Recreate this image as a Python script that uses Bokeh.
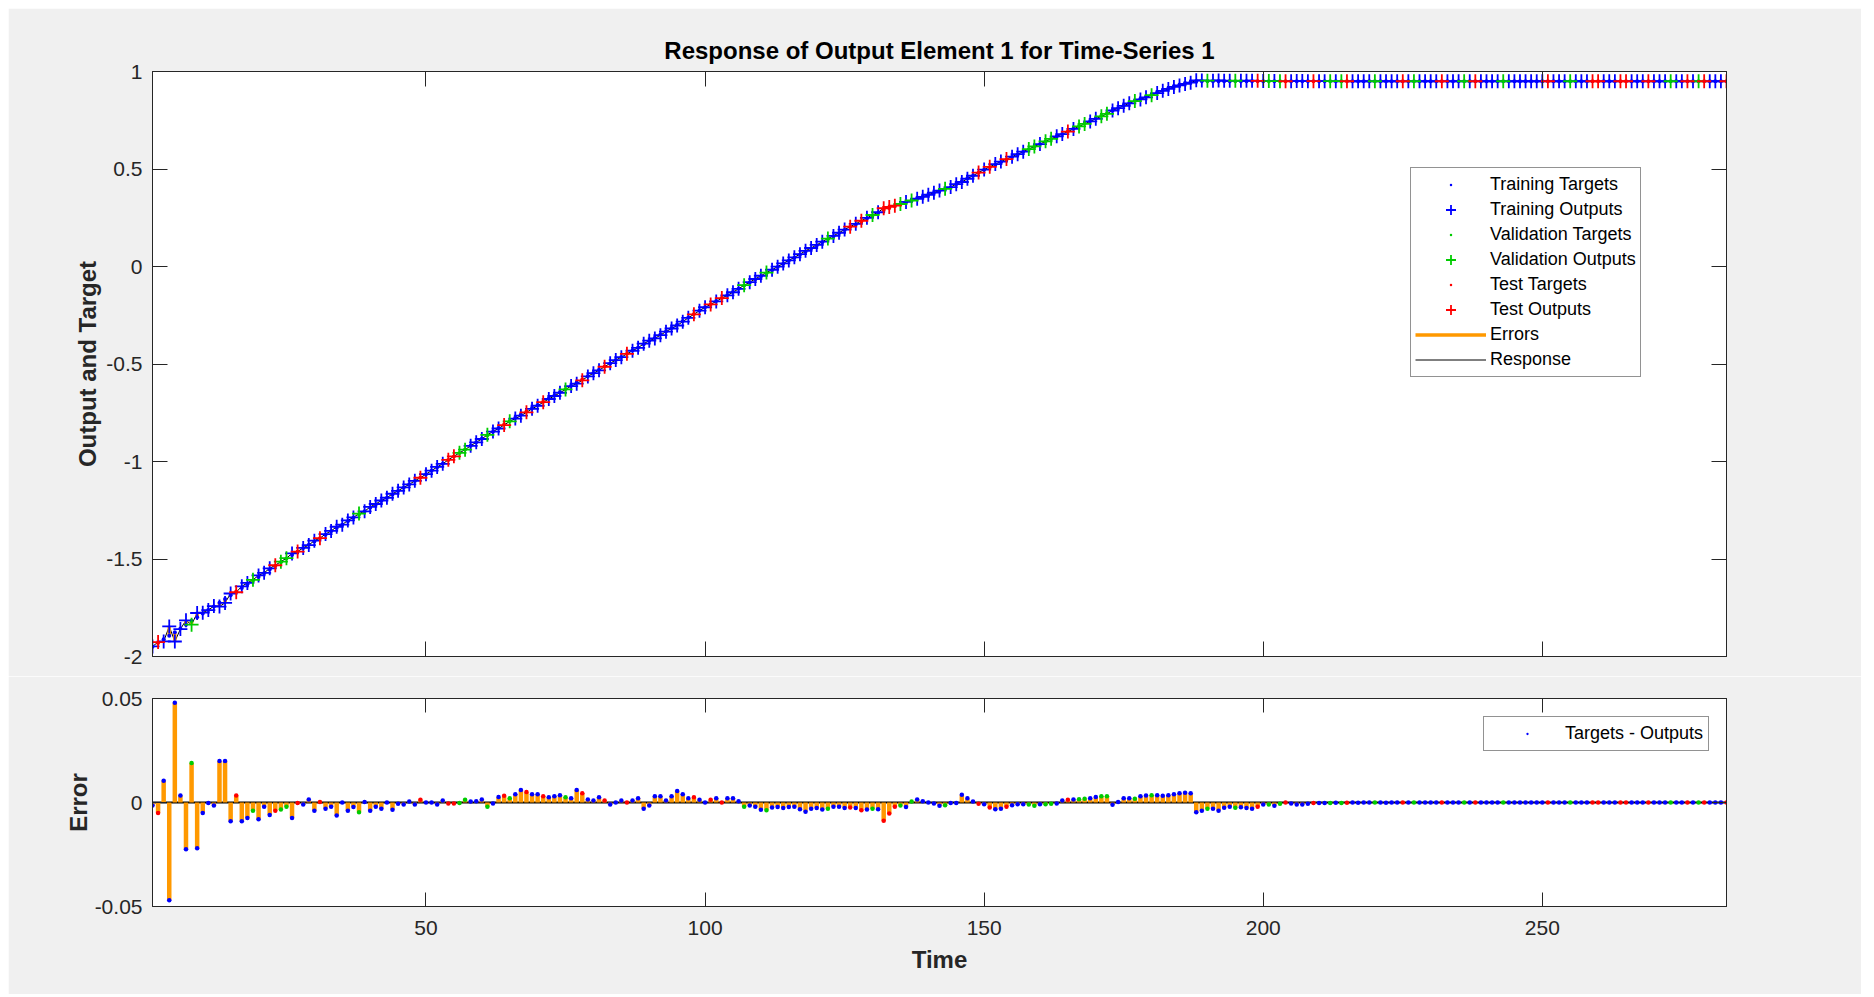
from bokeh.plotting import figure
from bokeh.models import (Range1d, FixedTicker, LinearAxis, Legend, LegendItem,
                          CustomJSTickFormatter, ColumnDataSource, Title, Span,
                          CustomLabelingPolicy)
from bokeh.layouts import column
from bokeh.embed import file_html
from bokeh.resources import INLINE

# ---------------- data ----------------
time = list(range(1, 284))

targets = [
    -1.950, -1.931, -1.912, -1.893, -1.875, -1.856, -1.837, -1.818, -1.799, -1.780,
    -1.762, -1.743, -1.724, -1.705, -1.686, -1.667, -1.649, -1.630, -1.611, -1.592,
    -1.573, -1.554, -1.536, -1.517, -1.498, -1.479, -1.462, -1.444, -1.427, -1.410,
    -1.393, -1.375, -1.358, -1.341, -1.324, -1.306, -1.289, -1.272, -1.255, -1.237,
    -1.220, -1.203, -1.186, -1.169, -1.151, -1.134, -1.117, -1.100, -1.082, -1.065,
    -1.047, -1.029, -1.011, -0.992, -0.974, -0.956, -0.938, -0.919, -0.901, -0.883,
    -0.865, -0.847, -0.828, -0.810, -0.792, -0.776, -0.759, -0.743, -0.726, -0.710,
    -0.693, -0.677, -0.661, -0.644, -0.628, -0.611, -0.595, -0.579, -0.562, -0.546,
    -0.530, -0.513, -0.497, -0.480, -0.464, -0.448, -0.431, -0.415, -0.399, -0.382,
    -0.366, -0.349, -0.333, -0.315, -0.297, -0.279, -0.261, -0.243, -0.225, -0.209,
    -0.193, -0.177, -0.162, -0.146, -0.130, -0.114, -0.098, -0.082, -0.066, -0.051,
    -0.035, -0.019, -0.003, 0.013, 0.029, 0.045, 0.060, 0.076, 0.092, 0.108,
    0.124, 0.140, 0.155, 0.171, 0.187, 0.202, 0.216, 0.231, 0.246, 0.261,
    0.275, 0.290, 0.300, 0.310, 0.319, 0.329, 0.339, 0.349, 0.358, 0.368,
    0.378, 0.388, 0.397, 0.407, 0.422, 0.437, 0.452, 0.466, 0.481, 0.496,
    0.509, 0.522, 0.535, 0.549, 0.562, 0.575, 0.588, 0.601, 0.614, 0.627,
    0.641, 0.654, 0.667, 0.680, 0.693, 0.707, 0.720, 0.733, 0.746, 0.760,
    0.773, 0.786, 0.799, 0.812, 0.826, 0.839, 0.850, 0.860, 0.871, 0.882,
    0.893, 0.904, 0.914, 0.925, 0.933, 0.941, 0.947, 0.950, 0.950, 0.950,
    0.950, 0.950, 0.950, 0.950, 0.950, 0.950, 0.950, 0.950, 0.950, 0.950,
    0.950, 0.950, 0.950, 0.950, 0.950, 0.950, 0.950, 0.950, 0.950, 0.950,
    0.950, 0.950, 0.950, 0.950, 0.950, 0.950, 0.950, 0.950, 0.950, 0.950,
    0.950, 0.950, 0.950, 0.950, 0.950, 0.950, 0.950, 0.950, 0.950, 0.950,
    0.950, 0.950, 0.950, 0.950, 0.950, 0.950, 0.950, 0.950, 0.950, 0.950,
    0.950, 0.950, 0.950, 0.950, 0.950, 0.950, 0.950, 0.950, 0.950, 0.950,
    0.950, 0.950, 0.950, 0.950, 0.950, 0.950, 0.950, 0.950, 0.950, 0.950,
    0.950, 0.950, 0.950, 0.950, 0.950, 0.950, 0.950, 0.950, 0.950, 0.950,
    0.950, 0.950, 0.950, 0.950, 0.950, 0.950, 0.950, 0.950, 0.950, 0.950,
    0.950, 0.950, 0.950,
]

errors = [
    -0.0015, -0.005, 0.0105, -0.047, 0.048, 0.0034, -0.0225, 0.019, -0.022, -0.005,
    -0.0003, -0.0015, 0.020, 0.020, -0.009, 0.0034, -0.009, -0.0075, -0.004, -0.008,
    -0.002, -0.006, -0.004, -0.0034, -0.002, -0.0074, -0.0003, -0.001, 0.0015, -0.004,
    0.0003, -0.003, -0.002, -0.0063, 0.0, -0.004, -0.0022, -0.0047, 0.0003, -0.004,
    -0.002, -0.003, 0.0, -0.0035, -0.0006, -0.001, 0.0005, -0.001, 0.0013, 0.0,
    0.0, -0.001, 0.001, -0.0005, -0.0005, -0.0003, 0.0013, 0.0005, 0.0006, 0.0015,
    -0.002, -0.0005, 0.0027, 0.0032, 0.002, 0.004, 0.006, 0.005, 0.004, 0.004,
    0.003, 0.0025, 0.003, 0.0035, 0.0025, 0.002, 0.006, 0.0045, 0.0015, 0.001,
    0.0025, 0.001, -0.001, 0.0, 0.001, 0.0, 0.001, 0.002, -0.003, -0.0015,
    0.003, 0.003, 0.001, 0.003, 0.0055, 0.004, 0.002, 0.0025, 0.0013, 0.0,
    0.0013, 0.002, 0.0, 0.002, 0.002, 0.0006, -0.002, -0.0015, -0.002, -0.0035,
    -0.0037, -0.0024, -0.0022, -0.0027, -0.0022, -0.002, -0.0032, -0.0045, -0.003, -0.0026,
    -0.0034, -0.003, -0.002, -0.002, -0.0026, -0.0024, -0.0027, -0.0037, -0.0034, -0.003,
    -0.0032, -0.0088, -0.0053, -0.002, -0.0015, -0.0022, 0.0005, 0.0015, 0.0006, 0.0,
    -0.0005, -0.0016, -0.0013, -0.0003, -0.0003, 0.0037, 0.002, 0.0005, -0.0006, -0.0008,
    -0.0024, -0.0032, -0.003, -0.002, -0.0013, -0.0008, -0.0008, -0.001, -0.0016, -0.0008,
    -0.0008, -0.0006, -0.0005, 0.001, 0.0013, 0.0015, 0.0016, 0.0018, 0.002, 0.0026,
    0.003, 0.003, -0.0011, 0.0003, 0.002, 0.002, 0.0018, 0.003, 0.0034, 0.0035,
    0.0035, 0.0032, 0.0035, 0.004, 0.0045, 0.0047, 0.0045, -0.0047, -0.004, -0.003,
    -0.003, -0.004, -0.0025, -0.002, -0.0025, -0.0023, -0.0026, -0.003, -0.002, -0.001,
    -0.001, -0.0016, -0.0006, 0.0, -0.0005, -0.001, -0.001, -0.0006, -0.0003, -0.0002,
    -0.0003, -0.0002, -0.0001, -0.0002, -0.0001, 0.0, -0.0001, 0.0, 0.0, 0.0,
    0.0, -0.0001, 0.0, 0.0, 0.0, 0.0, 0.0, 0.0, 0.0, 0.0,
    0.0, 0.0, 0.0, 0.0, 0.0, 0.0, 0.0, 0.0, 0.0, 0.0,
    0.0, 0.0, 0.0, 0.0, 0.0, 0.0, 0.0, 0.0, 0.0, 0.0,
    0.0, 0.0, 0.0, 0.0, 0.0, 0.0, 0.0, 0.0, 0.0, 0.0,
    0.0, 0.0, 0.0, 0.0, 0.0, 0.0, 0.0, 0.0, 0.0, 0.0,
    0.0, 0.0, 0.0, 0.0, 0.0, 0.0, 0.0, 0.0, 0.0, 0.0,
    0.0, 0.0, 0.0,
]

# B = training, G = validation, R = test (one letter per time step)
segments = list(
    "BRBBBBBGBB" "BBBBBRBBGB" "BBRGGBRBBB" "RBBBBBBGBB" "BBBBBBBBRB"
    "BBBRRGGBBB" "GBBRGBBRBB" "RBBBGBBRBB" "BRBBBRBBBB" "BBBBBBBRBB"
    "RBRBBBGBBB" "GBBBBBBBBB" "BGBBBRBRBG" "BRRRGBGBBB" "BBGBBBBBRB"
    "RBBRBBBGGB" "GGBBRBGGBB" "GGBBBBGBBG" "BBBBBBBBBG" "BBBBGBBBRB"
    "GBGRBBBBRB" "BGBGRBBBBG" "BBBBRBGBBB" "BRBBBGBRBB" "BBGBBBBBBB"
    "RBBBGBBBRR" "BBBRRBBBRB" "BBGBBRBGRB" "BBR"
)

segment_names = {"B": "Training", "G": "Validation", "R": "Test"}
x_ticks = [50, 100, 150, 200, 250]
y_ticks_top = [-2, -1.5, -1, -0.5, 0, 0.5, 1]
y_ticks_err = [-0.05, 0, 0.05]

outputs = [t - e for t, e in zip(targets, errors)]
NAN = float("nan")

# ---------------- styling ----------------
FONT = "Liberation Sans"
AX = "#262626"
COLORS = {"B": "#0000ff", "G": "#00cc00", "R": "#ff0000"}
ORANGE = "#ff9900"
BG = "#f0f0f0"

W = 1853
LEFT = 144
FRAME_W = 1574
RIGHT = W - LEFT - FRAME_W
H1, TOP1, FH1 = 668, 63, 585
H2, TOP2, FH2 = 318, 22, 208

fmt = CustomJSTickFormatter(code="return String(Math.round(tick*10000)/10000);")
no_labels = CustomLabelingPolicy(code="return [];")


def style_axis(ax, ticks, show, tick_len=15):
    ax.ticker = FixedTicker(ticks=ticks)
    ax.formatter = fmt
    ax.major_tick_in = tick_len
    ax.major_tick_out = 0
    ax.minor_tick_line_color = None
    ax.axis_line_color = AX
    ax.major_tick_line_color = AX
    ax.major_label_text_font = FONT
    ax.major_label_text_color = AX
    if show:
        ax.major_label_text_font_size = "21px"
        ax.major_label_standoff = 10
    else:
        ax.major_label_text_font_size = "5px"
        ax.major_label_standoff = 0
        ax.major_label_policy = no_labels


def make_fig(h, top, fh, yr):
    p = figure(width=W, height=h, output_backend="svg", toolbar_location=None,
               x_range=Range1d(1, 283), y_range=Range1d(*yr))
    p.min_border_left = LEFT
    p.min_border_right = RIGHT
    p.min_border_top = top
    p.min_border_bottom = h - top - fh
    p.border_fill_color = BG
    p.background_fill_color = "white"
    p.outline_line_color = AX
    p.xgrid.visible = False
    p.ygrid.visible = False
    return p


# ---------------- top: response ----------------
p1 = make_fig(H1, TOP1, FH1, (-2, 1))
p1.title = Title(text="Response of Output Element 1 for Time-Series 1", align="center",
                 text_font=FONT, text_font_size="24px", text_font_style="bold",
                 text_color="#000000", standoff=2)
style_axis(p1.xaxis[0], x_ticks, False)
style_axis(p1.yaxis[0], y_ticks_top, True)
p1.yaxis[0].axis_label = "Output and Target"
p1.yaxis[0].axis_label_text_font = FONT
p1.yaxis[0].axis_label_text_font_size = "24px"
p1.yaxis[0].axis_label_text_font_style = "bold"
p1.yaxis[0].axis_label_text_color = AX
p1.yaxis[0].axis_label_standoff = 2
ax_r = LinearAxis()
style_axis(ax_r, y_ticks_top, False)
p1.add_layout(ax_r, "right")
ax_t = LinearAxis()
style_axis(ax_t, x_ticks, False)
p1.add_layout(ax_t, "above")

src_all = ColumnDataSource(dict(t=time, tg=targets, out=outputs, err=errors,
                                zero=[0.0] * len(time)))
r_resp = p1.line("t", "out", source=src_all, line_color="black", line_width=1)
r_err = p1.segment(x0="t", y0="tg", x1="t", y1="out", source=src_all,
                   line_color=ORANGE, line_width=3.5)

dot_r, cross_r, dot_key = {}, {}, {}
for k in ["B", "G", "R"]:
    idx = [i for i, s in enumerate(segments) if s == k]
    s = ColumnDataSource(dict(t=[time[i] for i in idx],
                              tg=[targets[i] for i in idx]))
    dot_r[k] = p1.scatter("t", "tg", source=s, marker="circle", size=4,
                          fill_color=COLORS[k], line_color=None)
    # legend key only (small dot, like the reference legend); not drawn in the plot
    dot_key[k] = p1.scatter(x=[NAN], y=[NAN], marker="dot", size=10,
                            fill_color=COLORS[k], line_color=COLORS[k])
for k in ["B", "G", "R"]:
    idx = [i for i, s in enumerate(segments) if s == k]
    s = ColumnDataSource(dict(t=[time[i] for i in idx],
                              out=[outputs[i] for i in idx]))
    cross_r[k] = p1.scatter("t", "out", source=s, marker="cross", size=14,
                            line_color=COLORS[k], line_width=1.8)

items = []
for k in ["B", "G", "R"]:
    items.append(LegendItem(label=segment_names[k] + " Targets", renderers=[dot_key[k]]))
    items.append(LegendItem(label=segment_names[k] + " Outputs", renderers=[cross_r[k]]))
items.append(LegendItem(label="Errors", renderers=[r_err]))
items.append(LegendItem(label="Response", renderers=[r_resp]))

leg1 = Legend(items=items, location=(1258, 279), orientation="vertical",
              border_line_color=AX, border_line_width=1,
              background_fill_color="white", background_fill_alpha=1.0,
              label_text_font=FONT, label_text_font_size="18px", label_text_color="#000000",
              glyph_width=71, glyph_height=25, label_height=25, spacing=0,
              padding=4, margin=0, label_standoff=4)
p1.add_layout(leg1, "center")

# ---------------- bottom: errors ----------------
p2 = make_fig(H2, TOP2, FH2, (-0.05, 0.05))
style_axis(p2.xaxis[0], x_ticks, True, 14)
style_axis(p2.yaxis[0], y_ticks_err, True, 14)
p2.xaxis[0].major_label_standoff = 14
p2.xaxis[0].axis_label = "Time"
p2.yaxis[0].axis_label = "Error"
for ax in (p2.xaxis[0], p2.yaxis[0]):
    ax.axis_label_text_font = FONT
    ax.axis_label_text_font_size = "24px"
    ax.axis_label_text_font_style = "bold"
    ax.axis_label_text_color = AX
p2.xaxis[0].axis_label_standoff = 8
p2.yaxis[0].axis_label_standoff = 0
ax_r2 = LinearAxis()
style_axis(ax_r2, y_ticks_err, False, 14)
p2.add_layout(ax_r2, "right")
ax_t2 = LinearAxis()
style_axis(ax_t2, x_ticks, False, 14)
p2.add_layout(ax_t2, "above")

zero_line = Span(location=0, dimension="width", line_color="black", line_width=2,
                 level="underlay")
p2.add_layout(zero_line)
p2.segment(x0="t", y0="zero", x1="t", y1="err", source=src_all,
           line_color=ORANGE, line_width=4.5)
err_dots = {}
for k in ["B", "G", "R"]:
    idx = [i for i, s in enumerate(segments) if s == k]
    s = ColumnDataSource(dict(t=[time[i] for i in idx], e=[errors[i] for i in idx]))
    err_dots[k] = p2.scatter("t", "e", source=s, marker="circle", size=4.5,
                             fill_color=COLORS[k], line_color=None)
err_key = p2.scatter(x=[NAN], y=[NAN], marker="dot", size=10,
                     fill_color=COLORS["B"], line_color=COLORS["B"])

leg2 = Legend(items=[LegendItem(label="Targets - Outputs", renderers=[err_key])],
              location=(1331, 155), border_line_color=AX, border_line_width=1,
              background_fill_color="white", background_fill_alpha=1.0,
              label_text_font=FONT, label_text_font_size="18px", label_text_color="#000000",
              glyph_width=76, glyph_height=23, label_height=23, spacing=0,
              padding=5, margin=0, label_standoff=0)
p2.add_layout(leg2, "center")

layout = column(p1, p2, spacing=0)
layout.margin = (8, 0, 0, 8)
open("out.html", "w").write(file_html(layout, INLINE))
